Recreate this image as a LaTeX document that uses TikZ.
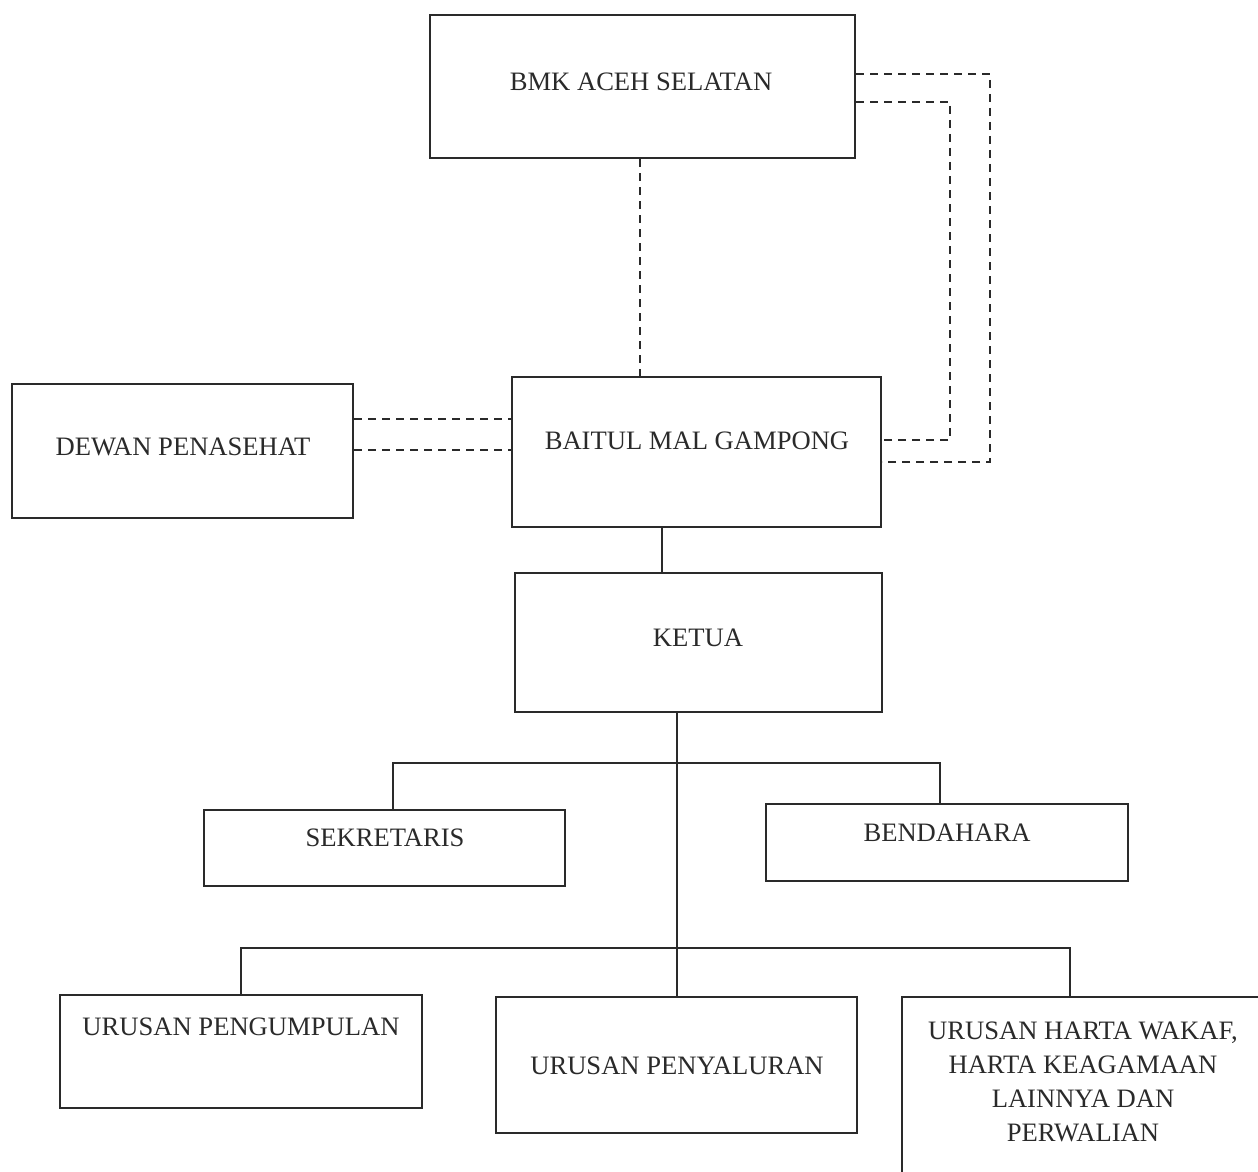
\documentclass[tikz,border=0pt]{standalone}
\usepackage{fontspec}
\setmainfont{Liberation Serif}
\definecolor{ink}{HTML}{2A2A2A}
\begin{document}
\begin{tikzpicture}[x=0.5pt,y=-0.5pt,
  box/.style={draw=ink,line width=1pt,inner sep=0pt},
  lbl/.style={text=ink,font=\fontsize{13.3}{17}\selectfont,align=center,inner sep=0pt},
  solidline/.style={draw=ink,line width=1pt},
  dashline/.style={draw=ink,line width=0.9pt,dash pattern=on 4pt off 3pt}]
\useasboundingbox[fill=white] (0,0) rectangle (1258,1172);
% boxes
\node[box,minimum width=212.5pt,minimum height=71.5pt] (bmk) at (642.5,86.5) {};
\node[box,minimum width=170.5pt,minimum height=67pt] (dewan) at (182.5,451) {};
\node[box,minimum width=184.5pt,minimum height=75pt] (baitul) at (696.5,452) {};
\node[box,minimum width=183.5pt,minimum height=69.5pt] (ketua) at (698.5,642.5) {};
\node[box,minimum width=180.5pt,minimum height=38pt] (sek) at (384.5,848) {};
\node[box,minimum width=181pt,minimum height=38.5pt] (bend) at (947,842.5) {};
\node[box,minimum width=181pt,minimum height=56.5pt] (peng) at (241,1051.5) {};
\node[box,minimum width=180.5pt,minimum height=68pt] (peny) at (676.5,1065) {};
\node[box,minimum width=190pt,minimum height=95pt] (harta) at (1092,1092) {};
% labels
\node[lbl] (tbmk) at (641,82) {BMK ACEH SELATAN};
\node[lbl] (tdewan) at (183,447) {DEWAN PENASEHAT};
\node[lbl] (tbaitul) at (697,441) {BAITUL MAL GAMPONG};
\node[lbl] (tketua) at (698,638) {KETUA};
\node[lbl] (tsek) at (385,838) {SEKRETARIS};
\node[lbl] (tbend) at (947,833) {BENDAHARA};
\node[lbl] (tpeng) at (241,1027) {URUSAN PENGUMPULAN};
\node[lbl] (tpeny) at (677,1066) {URUSAN PENYALURAN};
\node[lbl] (tharta) at (1083,1082) {URUSAN HARTA WAKAF,\\HARTA KEAGAMAAN\\LAINNYA DAN\\PERWALIAN};
% dashed links
\draw[dashline] (bmk.south -| 640,0) -- (baitul.north -| 640,0);
\draw[dashline] (dewan.east |- 0,419) -- (baitul.west |- 0,419);
\draw[dashline] (dewan.east |- 0,450) -- (baitul.west |- 0,450);
\draw[dashline] (bmk.east |- 0,74) -- (990,74) -- (990,462) -- (baitul.east |- 0,462);
\draw[dashline] (bmk.east |- 0,102) -- (950,102) -- (950,440) -- (baitul.east |- 0,440);
% solid links
\draw[solidline] (baitul.south -| 662,0) -- (ketua.north -| 662,0);
\coordinate (j1) at (677,763);
\coordinate (j2) at (677,948);
\draw[solidline] (ketua.south -| 677,0) -- (j1) -- (j2);
\draw[solidline] (sek.north -| 393,0) -- (393,763) -- (940,763) -- (bend.north -| 940,0);
\draw[solidline] (peng.north -| 241,0) -- (241,948) -- (1070,948) -- (harta.north -| 1070,0);
\draw[solidline] (j2) -- (peny.north -| 677,0);
\end{tikzpicture}
\end{document}
